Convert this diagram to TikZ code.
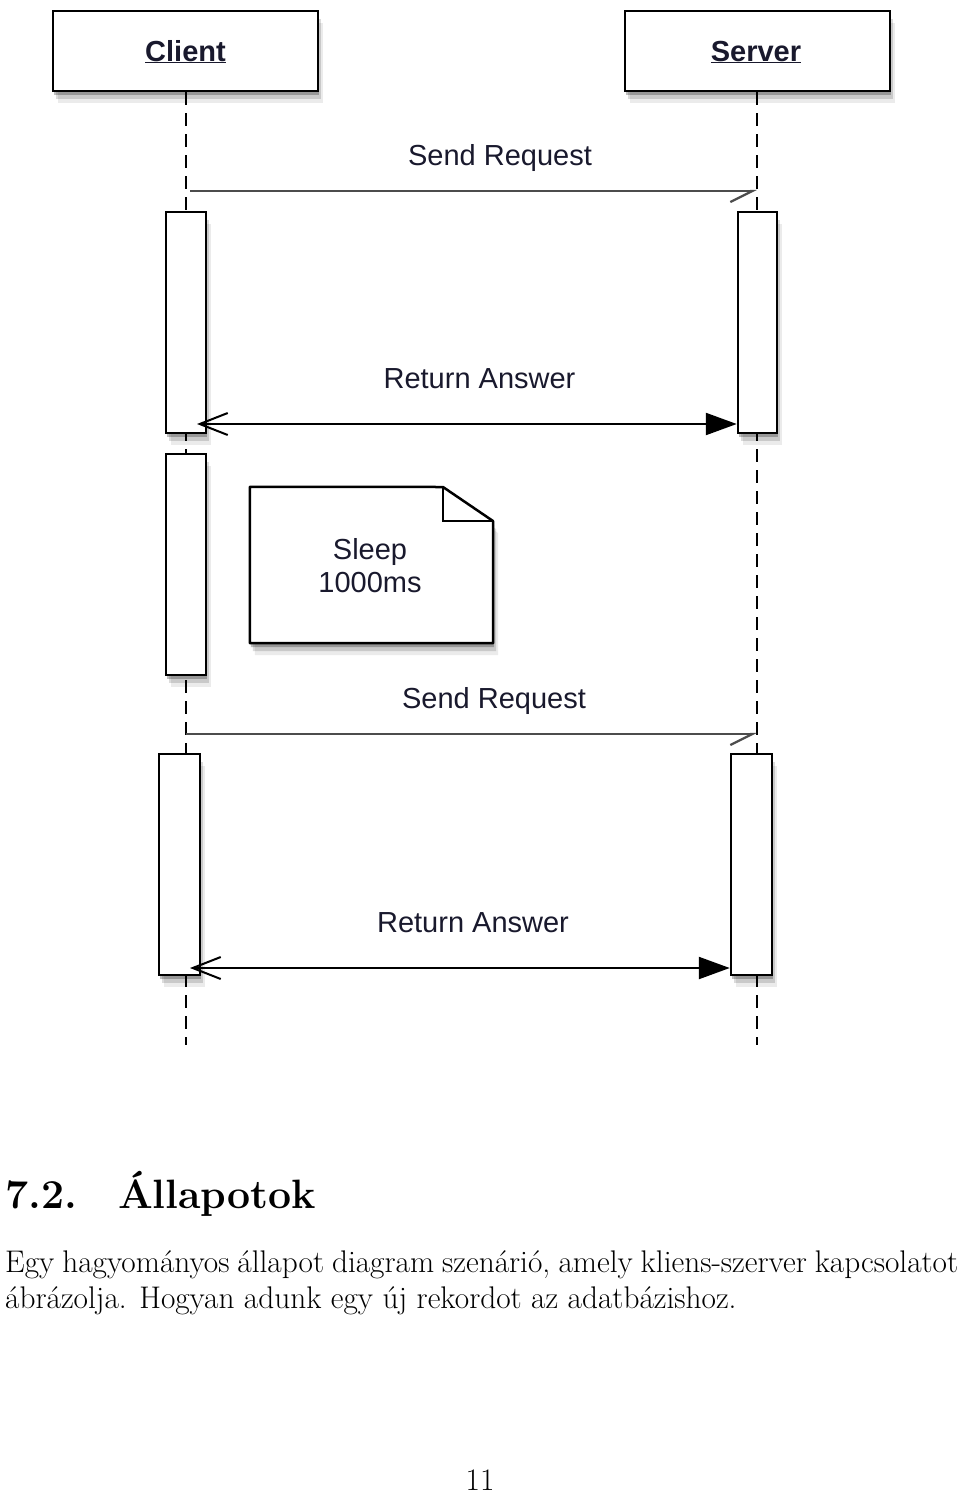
\documentclass[tikz,border=0pt]{standalone}
\usepackage{fontspec}
\newfontfamily\hv{Liberation Sans}
\usetikzlibrary{arrows.meta,shadows}
\definecolor{lbl}{RGB}{25,25,45}
\tikzset{
  sh/.style={drop shadow={shadow xshift=1pt,shadow yshift=-4pt,opacity=.25,fill=black},
             drop shadow={shadow xshift=3pt,shadow yshift=-8pt,opacity=.14,fill=black},
             drop shadow={shadow xshift=5pt,shadow yshift=-12pt,opacity=.08,fill=black}},
  actor/.style={draw,line width=2.5pt,fill=white,minimum width=265pt,minimum height=80pt,inner sep=0pt,sh,
                font=\hv\bfseries\fontsize{29}{34}\selectfont,text=lbl},
  act/.style={draw,line width=2.5pt,fill=white,inner sep=0pt,minimum height=221pt,sh},
  life/.style={line width=2.5pt,dash pattern=on 13pt off 8pt},
  lbl/.style={anchor=base,inner sep=0pt,font=\hv\fontsize{29}{34}\selectfont,text=lbl},
  req/.style={line width=2.8pt,draw=black!70,-{Straight Barb[harpoon,swap,length=22pt,width=22pt,line width=2.2pt]}},
  ans/.style={line width=2.4pt,{Straight Barb[length=28pt,width=22pt,line width=2pt]}-{Triangle[length=31pt,width=22pt]}},
  txt/.style={anchor=base west,inner sep=0pt,font=\fontsize{31.3}{36}\selectfont},
}
\begin{document}
\begin{tikzpicture}[x=1pt,y=-1pt]
\useasboundingbox[fill=white] (0,0) rectangle (960,1494);
% lifelines
\coordinate (cend) at (186,1045);
\coordinate (send) at (757,1045);
\node[actor] (client) at (185.5,51) {};
\node[actor] (server) at (757.5,51) {};
\node[lbl,font=\hv\bfseries\fontsize{29}{34}\selectfont] (clientl) at (185.5,61) {\underline{Client}};
\node[lbl,font=\hv\bfseries\fontsize{29}{34}\selectfont] (serverl) at (756,61) {\underline{Server}};
\draw[life] (client.south -| cend) -- (cend);
\draw[life] (server.south -| send) -- (send);
% activations
\node[act,minimum width=40pt] (c1) at (186,322.5) {};
\node[act,minimum width=39pt] (s1) at (757.5,322.5) {};
\node[act,minimum width=40pt] (c2) at (186,564.5) {};
\node[act,minimum width=41pt] (c3) at (179.5,864.5) {};
\node[act,minimum width=41pt] (s3) at (751.5,864.5) {};
% messages
\coordinate (r1a) at (190,191);
\coordinate (r1b) at (757,191);
\draw[req] (r1a) -- (r1b);
\node[lbl] (l1) at (500,165) {Send Request};
\coordinate (a1a) at (197,424);
\draw[ans] (a1a) -- (s1.west |- a1a);
\node[lbl] (l2) at (479.5,388) {Return Answer};
\coordinate (r2a) at (186,734);
\coordinate (r2b) at (757,734);
\draw[req] (r2a) -- (r2b);
\node[lbl] (l3) at (494,708) {Send Request};
\coordinate (a2a) at (190,968);
\draw[ans] (a2a) -- (s3.west |- a2a);
\node[lbl] (l4) at (473,932) {Return Answer};
% note
\node[inner sep=0pt,minimum width=243pt,minimum height=156pt] (note) at (371.5,565) {};
\coordinate (f1) at (443,487);
\coordinate (f2) at (493,521);
\coordinate (f3) at (443,521);
\draw[line width=2.5pt,fill=white,sh,line join=round] (note.north west) -- (f1) -- (f2) -- (note.south east) -- (note.south west) -- cycle;
\draw[line width=1.6pt] (f1) -- (f3) -- (f2);
\node[lbl] (sl1) at (370,559) {Sleep};
\node[lbl] (sl2) at (370,592) {1000ms};
% text
\node[anchor=base west,inner sep=0pt,font=\fontsize{41}{49}\selectfont\bfseries] (head) at (5,1208) {7.2.\quad Állapotok};
\node[txt] (p1) at (5,1272) {\makebox[953pt][s]{Egy hagyományos állapot diagram szenárió, amely kliens-szerver kapcsolatot}};
\node[txt] (p2) at (5,1308) {ábrázolja. Hogyan adunk egy új rekordot az adatbázishoz.};
\node[anchor=base,inner sep=0pt,font=\fontsize{31.3}{36}\selectfont] (pn) at (480,1490) {11};
\end{tikzpicture}
\end{document}
